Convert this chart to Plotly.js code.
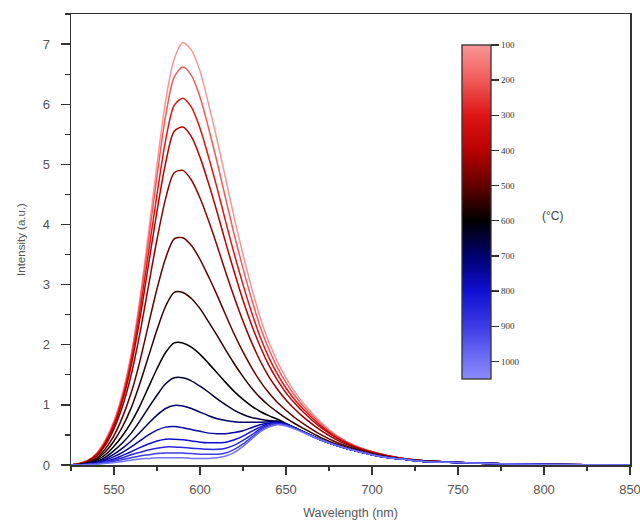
<!DOCTYPE html>
<html><head><meta charset="utf-8">
<script src="https://cdn.plot.ly/plotly-3.0.1.min.js"></script>
<style>html,body{margin:0;padding:0;background:#fff}#plot{width:640px;height:527px}</style>
</head><body><div id="plot"></div>
<script>
const wavelength = [525,530,535,540,545,550,555,560,565,570,575,580,585,590,595,600,605,610,615,620,625,630,635,640,645,650,655,660,670,680,690,700,710,720,730,750,775,800,850];
const temps = [100,200,300,400,450,500,550,600,650,700,750,800,850,900,1000];
const i100 = [0,0.03,0.08,0.2,0.42,0.74,1.2,1.85,2.75,3.85,5.0,6.05,6.75,7.02,6.9,6.55,6.0,5.4,4.75,4.1,3.5,2.95,2.45,2.05,1.72,1.45,1.22,1.03,0.72,0.48,0.32,0.22,0.15,0.1,0.07,0.04,0.02,0.01,0];
const i200 = [0,0.03,0.08,0.19,0.4,0.71,1.16,1.8,2.68,3.72,4.8,5.8,6.45,6.62,6.48,6.12,5.6,5.03,4.42,3.82,3.27,2.76,2.3,1.93,1.62,1.37,1.16,0.98,0.69,0.47,0.32,0.22,0.15,0.1,0.07,0.04,0.02,0.01,0];
const i300 = [0,0.02,0.07,0.18,0.38,0.68,1.12,1.73,2.55,3.52,4.5,5.4,5.98,6.1,5.95,5.6,5.12,4.6,4.04,3.5,3.0,2.54,2.13,1.79,1.51,1.28,1.09,0.93,0.66,0.45,0.31,0.22,0.15,0.1,0.07,0.04,0.02,0.01,0];
const i400 = [0,0.02,0.07,0.17,0.36,0.65,1.07,1.65,2.42,3.32,4.22,5.02,5.55,5.62,5.46,5.12,4.68,4.2,3.69,3.2,2.74,2.33,1.97,1.66,1.41,1.2,1.03,0.88,0.63,0.44,0.3,0.21,0.15,0.1,0.07,0.04,0.02,0.01,0];
const i450 = [0,0.02,0.06,0.15,0.33,0.6,0.98,1.5,2.18,2.97,3.75,4.43,4.86,4.9,4.74,4.44,4.06,3.64,3.2,2.78,2.39,2.04,1.73,1.47,1.26,1.08,0.93,0.8,0.58,0.41,0.29,0.2,0.14,0.1,0.07,0.04,0.02,0.01,0];
const i500 = [0,0.01,0.05,0.12,0.27,0.49,0.8,1.2,1.72,2.33,2.93,3.44,3.76,3.78,3.65,3.42,3.13,2.82,2.49,2.17,1.88,1.62,1.39,1.2,1.04,0.91,0.79,0.69,0.51,0.37,0.27,0.19,0.13,0.09,0.07,0.04,0.02,0.01,0];
const i550 = [0,0.01,0.04,0.1,0.22,0.4,0.64,0.95,1.35,1.8,2.25,2.64,2.87,2.87,2.77,2.6,2.38,2.15,1.91,1.68,1.47,1.28,1.12,0.99,0.88,0.78,0.69,0.61,0.46,0.34,0.25,0.18,0.13,0.09,0.07,0.04,0.02,0.01,0];
const i600 = [0,0.01,0.03,0.08,0.17,0.31,0.49,0.71,0.98,1.29,1.6,1.87,2.03,2.03,1.96,1.84,1.69,1.53,1.37,1.22,1.09,0.98,0.89,0.82,0.76,0.69,0.62,0.56,0.43,0.32,0.24,0.17,0.12,0.09,0.06,0.04,0.02,0.01,0];
const i650 = [0,0.01,0.03,0.06,0.13,0.24,0.37,0.53,0.73,0.95,1.16,1.35,1.45,1.45,1.4,1.31,1.21,1.1,1.0,0.91,0.84,0.79,0.76,0.74,0.73,0.68,0.62,0.55,0.42,0.32,0.24,0.17,0.12,0.09,0.06,0.04,0.02,0.01,0];
const i700 = [0,0,0.02,0.05,0.1,0.18,0.28,0.4,0.54,0.69,0.83,0.94,0.99,0.98,0.94,0.88,0.82,0.77,0.74,0.72,0.71,0.71,0.71,0.72,0.72,0.68,0.62,0.55,0.42,0.32,0.24,0.17,0.12,0.09,0.06,0.04,0.02,0.01,0];
const i750 = [0,0,0.01,0.04,0.08,0.14,0.21,0.3,0.4,0.5,0.58,0.63,0.64,0.62,0.59,0.56,0.53,0.52,0.52,0.54,0.57,0.62,0.67,0.7,0.71,0.68,0.62,0.55,0.42,0.32,0.24,0.17,0.12,0.09,0.06,0.04,0.02,0.01,0];
const i800 = [0,0,0.01,0.03,0.06,0.1,0.16,0.22,0.29,0.35,0.4,0.43,0.43,0.42,0.4,0.38,0.37,0.37,0.38,0.42,0.48,0.56,0.63,0.69,0.7,0.67,0.61,0.55,0.42,0.32,0.24,0.17,0.12,0.09,0.06,0.04,0.02,0.01,0];
const i850 = [0,0,0.01,0.02,0.05,0.08,0.12,0.17,0.21,0.25,0.28,0.3,0.3,0.29,0.28,0.27,0.26,0.26,0.28,0.33,0.41,0.5,0.6,0.67,0.69,0.67,0.61,0.55,0.42,0.32,0.24,0.17,0.12,0.09,0.06,0.04,0.02,0.01,0];
const i900 = [0,0,0.01,0.02,0.04,0.06,0.09,0.12,0.15,0.17,0.19,0.2,0.2,0.2,0.19,0.18,0.18,0.18,0.2,0.26,0.35,0.46,0.57,0.65,0.68,0.66,0.61,0.55,0.42,0.32,0.24,0.17,0.12,0.09,0.06,0.04,0.02,0.01,0];
const i1000 = [0,0,0.01,0.01,0.03,0.04,0.06,0.08,0.1,0.11,0.12,0.12,0.12,0.12,0.11,0.11,0.11,0.12,0.15,0.21,0.31,0.43,0.55,0.63,0.67,0.65,0.6,0.54,0.42,0.32,0.24,0.17,0.12,0.09,0.06,0.04,0.02,0.01,0];
const intensities = [i100,i200,i300,i400,i450,i500,i550,i600,i650,i700,i750,i800,i850,i900,i1000];
const xTicks = [550,600,650,700,750,800,850];
const cbTicks = [100,200,300,400,500,600,700,800,900,1000];
const cbTickText = ['100','200','300','400','500','600','700','800','900','1000'];

const stops = [[100,[250,150,150]],[200,[240,90,90]],[300,[222,20,20]],[400,[185,0,0]],[500,[100,0,0]],[600,[0,0,0]],[700,[0,0,110]],[800,[15,15,210]],[900,[60,60,230]],[1000,[115,115,245]],[1050,[140,140,255]]];
const Tmin = 100, Tmax = 1050;
function colorAt(T){
  for(let k=0;k<stops.length-1;k++){
    const [a,ca]=stops[k],[b,cb]=stops[k+1];
    if(T>=a && T<=b){const f=(T-a)/(b-a);
      return 'rgb('+ca.map((v,j)=>Math.round(v+(cb[j]-v)*f)).join(',')+')';}
  }
  return 'rgb(0,0,0)';
}
const colorscale = stops.slice().reverse().map(s=>[(Tmax - s[0])/(Tmax-Tmin), 'rgb('+s[1].join(',')+')']);

const traces = intensities.map((arr,i)=>({
  x: wavelength, y: arr, type:'scatter', mode:'lines',
  line:{color:colorAt(temps[i]), width:1.5, shape:'spline', smoothing:0.8},
  hoverinfo:'skip', showlegend:false
}));
traces.push({
  x:[wavelength[0]], y:[0], type:'scatter', mode:'markers', showlegend:false, hoverinfo:'skip',
  marker:{size:1, opacity:0, color:[-temps[0]], cmin:-Tmax, cmax:-Tmin, colorscale:colorscale, showscale:true,
    colorbar:{x:0.699, xanchor:'left', xpad:0, ypad:0, y:0.561, yanchor:'middle', len:334, lenmode:'pixels',
      thickness:29, thicknessmode:'pixels', outlinewidth:1.3, outlinecolor:'#333',
      tickmode:'array', tickvals:cbTicks.map(t=>-t), ticktext:cbTickText, ticks:'outside', ticklen:8, tickwidth:1.4, tickcolor:'#333',
      ticklabelstandoff:4,
      tickfont:{family:'Liberation Serif, Times New Roman', size:9, color:'#333'}}}
});

const tickFont = {family:'Liberation Sans, Arial', size:13, color:'#555'};
const layout = {
  width:640, height:527, paper_bgcolor:'#fff', plot_bgcolor:'#fff',
  margin:{l:71, r:10, t:14, b:62},
  xaxis:{range:[525,850], tickmode:'array', tickvals:xTicks, ticktext:xTicks.map(String), ticklabeloverflow:'allow',
    ticks:'outside', ticklen:8, tickwidth:1.3, tickcolor:'#333',
    showline:true, linecolor:'#333', linewidth:1.5, mirror:true, showgrid:false, zeroline:false,
    minor:{dtick:25, tick0:525, ticks:'outside', ticklen:4, tickwidth:1.2, tickcolor:'#333', showgrid:false},
    ticklabelstandoff:4,
    tickfont:tickFont, title:{text:'Wavelength (nm)', font:{family:'Liberation Sans, Arial', size:12.5, color:'#555'}, standoff:12}},
  yaxis:{range:[0,7.5], dtick:1, ticks:'outside', ticklen:9, tickwidth:1.3, tickcolor:'#333',
    showline:true, linecolor:'#333', linewidth:1.5, mirror:true, showgrid:false, zeroline:false,
    minor:{dtick:0.5, ticks:'outside', ticklen:5, tickwidth:1.2, tickcolor:'#333', showgrid:false},
    ticklabelstandoff:8,
    tickfont:tickFont, title:{text:'Intensity (a.u.)', font:{family:'Liberation Sans, Arial', size:11.5, color:'#555'}, standoff:14}},
  annotations:[{text:'(°C)', xref:'paper', yref:'paper', x:0.884, y:0.552, showarrow:false,
    font:{family:'Liberation Sans, Arial', size:12, color:'#444'}}]
};
Plotly.newPlot('plot', traces, layout, {displayModeBar:false, staticPlot:true});
</script></body></html>
